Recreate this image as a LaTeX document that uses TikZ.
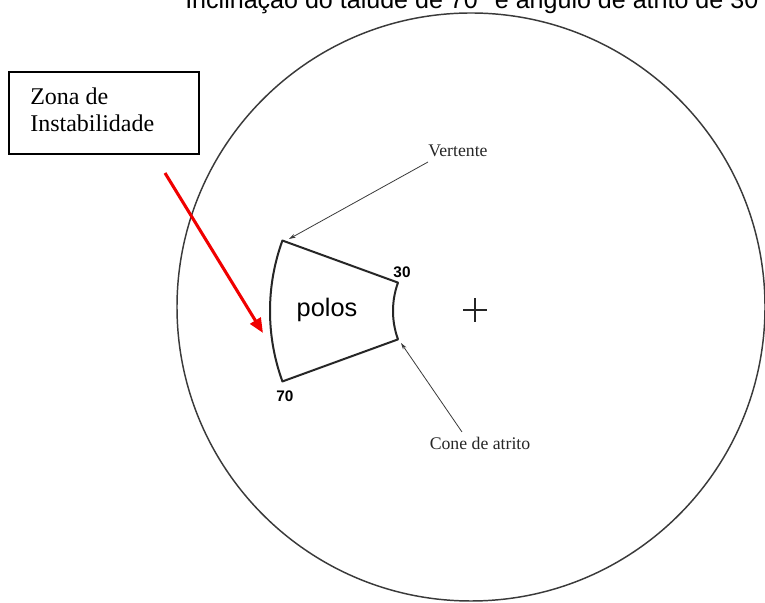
\documentclass[tikz,border=0pt]{standalone}
\usepackage{fontspec}
\setmainfont{Liberation Serif}
\newfontfamily\arialf{Liberation Sans}
\usetikzlibrary{arrows.meta,calc}
\definecolor{scanline}{HTML}{3A3A3A}
\definecolor{scantext}{HTML}{262626}
\definecolor{redarrow}{HTML}{F00000}
\tikzset{
  netcircle/.style={draw=scanline, line width=1.1pt},
  sectorline/.style={draw=black!85, line width=1.5pt, line join=round},
  pointer/.style={draw=scanline, line width=0.6pt, -{Stealth[length=5pt,width=3pt]}},
  scanlabel/.style={inner sep=0pt, text=scantext, font=\fontsize{13.3pt}{15pt}\selectfont},
  numlabel/.style={inner sep=0pt, font=\arialf\bfseries\fontsize{11.5pt}{13pt}\selectfont},
  redptr/.style={draw=redarrow, line width=2.3pt, -{Triangle[length=11pt,width=9pt]}},
  infobox/.style={draw=black, line width=1.1pt, minimum width=142.5pt, minimum height=61.5pt, inner sep=0pt}
}
\begin{document}
\begin{tikzpicture}[x=0.75pt,y=0.75pt]
\useasboundingbox (0,0) rectangle (765,603);
\begin{scope}
\clip (0,0) rectangle (765,603);
% title (cropped at the top in the reference)
\node[anchor=base west, inner sep=0pt, font=\arialf\fontsize{18.8pt}{21pt}\selectfont] (title) at (185,594)
  {Inclinação do talude de 70° e ângulo de atrito de 30°};
% stereonet circle
\node[netcircle, circle, minimum size=441pt, inner sep=0pt] (net) at (471,296) {};
\end{scope}
% centre cross
\coordinate (ctr) at (475,293);
\draw[line width=0.9pt, black!85] ($(ctr)+(-12,0)$) -- ($(ctr)+(12,0)$) ($(ctr)+(0,-12)$) -- ($(ctr)+(0,12)$);
% sector of poles
\coordinate (S) at (476,292);
\coordinate (otop) at ($(S)+(160:206)$);
\coordinate (obot) at ($(S)+(200:206)$);
\coordinate (itop) at ($(S)+(160:83)$);
\coordinate (ibot) at ($(S)+(200:83)$);
\draw[sectorline] (otop) arc[start angle=160, end angle=200, radius=206] -- (ibot)
  arc[start angle=200, end angle=160, radius=83] -- cycle;
\node[font=\arialf\fontsize{19pt}{22pt}\selectfont, inner sep=0pt] (polos) at (327,293) {polos};
\node[numlabel] (n30) at (402,331) {30};
\node[numlabel] (n70) at (285,207) {70};
% labels with pointers
\node[scanlabel] (vert) at (458,452) {Vertente};
\coordinate (vstart) at (428,441);
\coordinate (vtip) at (289,364);
\draw[pointer] (vstart) -- (vtip);
\node[scanlabel] (cone) at (480,160) {Cone de atrito};
\coordinate (cstart) at (462,171);
\coordinate (ctip) at (401,260);
\draw[pointer] (cstart) -- (ctip);
% instability box and red arrow
\node[infobox] (box) at (104,490) {};
\node[anchor=base west, inner sep=0pt, font=\fontsize{18pt}{20pt}\selectfont] (zona) at (30,498) {Zona de};
\node[anchor=base west, inner sep=0pt, font=\fontsize{18pt}{20pt}\selectfont] (inst) at (30,471) {Instabilidade};
\coordinate (rstart) at (165,430);
\coordinate (rtip) at (263,270);
\draw[redptr] (rstart) -- (rtip);
\end{tikzpicture}
\end{document}
